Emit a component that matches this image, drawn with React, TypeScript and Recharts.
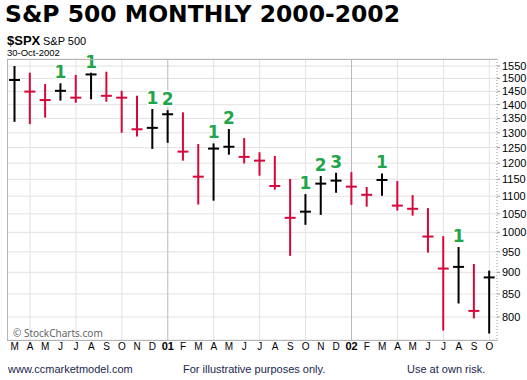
import React from "react";
import { Bar, CartesianGrid, ComposedChart, LabelList, XAxis, YAxis } from "recharts";

// monthly bars, Mar 2000 .. Oct 2002
const periods = [
  "2000-03", "2000-04", "2000-05", "2000-06", "2000-07", "2000-08", "2000-09", "2000-10", "2000-11", "2000-12",
  "2001-01", "2001-02", "2001-03", "2001-04", "2001-05", "2001-06", "2001-07", "2001-08", "2001-09", "2001-10",
  "2001-11", "2001-12", "2002-01", "2002-02", "2002-03", "2002-04", "2002-05", "2002-06", "2002-07", "2002-08",
  "2002-09", "2002-10"
];
const monthLabels = [
  "M", "A", "M", "J", "J", "A", "S", "O", "N", "D", "01", "F", "M", "A", "M", "J", "J", "A", "S", "O",
  "N", "D", "02", "F", "M", "A", "M", "J", "J", "A", "S", "O"
];
const highs = [1550, 1523, 1478, 1481, 1514, 1523, 1527, 1452, 1433, 1384, 1380, 1372, 1262, 1264, 1313, 1282,
  1235, 1223, 1151, 1106, 1160, 1170, 1172, 1127, 1168, 1145, 1103, 1066, 990, 962, 920, 904];
const lows = [1338, 1330, 1353, 1415, 1407, 1420, 1411, 1300, 1287, 1246, 1266, 1208, 1076, 1087, 1227, 1199,
  1161, 1119, 940, 1020, 1047, 1110, 1075, 1070, 1101, 1059, 1045, 948, 772, 829, 797, 766];
const closes = [1494, 1449, 1417, 1452, 1426, 1516, 1433, 1426, 1312, 1317, 1365, 1237, 1158, 1247, 1253, 1220,
  1208, 1130, 1039, 1056, 1137, 1146, 1128, 1104, 1148, 1073, 1064, 989, 909, 913, 813, 888];
const counts = ["", "", "", "1", "", "1", "", "", "", "1", "2", "", "", "1", "2", "", "", "", "", "1", "2", "3",
  "", "", "1", "", "", "", "", "1", "", ""];
const yTicks = [800, 850, 900, 950, 1000, 1050, 1100, 1150, 1200, 1250, 1300, 1350, 1400, 1450, 1500, 1550];
const quarterLines = ["2000-04", "2000-07", "2000-10", "2001-04", "2001-07", "2001-10", "2002-04", "2002-07", "2002-10"];
const yearLines = ["2001-01", "2002-01"];

const UP = "#000000";
const DOWN = "#d4083a";
const GREEN = "#1fa64a";
const AXIS_FONT = "'Liberation Sans', Arial, sans-serif";

const data = periods.map((p, i) => ({
  period: p,
  range: [lows[i], highs[i]],
  high: highs[i],
  low: lows[i],
  close: closes[i],
  up: i === 0 || closes[i] >= closes[i - 1],
  count: counts[i] || null
}));

// x positions of category band centres within the plot area
function gridXs(keys: string[]) {
  return (args: any) => {
    const { left, width } = args.offset;
    const step = width / periods.length;
    return keys.map((k) => left + (periods.indexOf(k) + 0.5) * step);
  };
}

function HlcBar(props: any) {
  const { x, y, width, height, payload } = props;
  if (x == null || y == null) return null;
  const cx = x + width / 2;
  const span = Math.log(payload.high) - Math.log(payload.low);
  const cy = y + (height * (Math.log(payload.high) - Math.log(payload.close))) / span;
  const color = payload.up ? UP : DOWN;
  return (
    <g>
      <line x1={cx} x2={cx} y1={y} y2={y + height} stroke={color} strokeWidth={2} />
      <line x1={cx - 5.5} x2={cx + 5.5} y1={cy} y2={cy} stroke={color} strokeWidth={2} />
    </g>
  );
}

function CountLabel(props: any) {
  const { x, y, width, value } = props;
  if (!value) return null;
  return (
    <text
      x={x + width / 2}
      y={y - 5}
      textAnchor="middle"
      fontFamily="'DejaVu Sans', sans-serif"
      fontWeight="bold"
      fontSize={17}
      fill={GREEN}
      stroke="#ffffff"
      strokeWidth={3}
      paintOrder="stroke"
    >
      {value}
    </text>
  );
}

function MonthTick(props: any) {
  const { x, y, payload } = props;
  const label = monthLabels[payload.index];
  const isYear = label === "01" || label === "02";
  return (
    <text
      x={x}
      y={y + 10}
      textAnchor="middle"
      fontFamily={AXIS_FONT}
      fontSize={isYear ? 11 : 10}
      fontWeight={isYear ? "bold" : "normal"}
      fill="#000"
    >
      {label}
    </text>
  );
}

export default function App() {
  return (
    <div style={{ position: "absolute", left: 0, top: 0, width: 527, height: 380, background: "#fff" }}>
      <ComposedChart
        width={527}
        height={380}
        data={data}
        margin={{ top: 59, right: 0, bottom: 20, left: 7 }}
      >
        <CartesianGrid vertical={false} stroke="#e2e2e2" strokeWidth={1} />
        <CartesianGrid
          horizontal={false}
          stroke="#e2e2e2"
          verticalCoordinatesGenerator={gridXs(quarterLines)}
        />
        <CartesianGrid
          horizontal={false}
          stroke="#b8b8b8"
          verticalCoordinatesGenerator={gridXs(yearLines)}
        />
        <XAxis
          dataKey="period"
          type="category"
          height={20}
          interval={0}
          tickLine={false}
          axisLine={false}
          tickSize={0}
          tickMargin={0}
          tick={<MonthTick />}
        />
        <YAxis
          orientation="right"
          scale="log"
          domain={[753, 1579]}
          allowDataOverflow
          ticks={yTicks}
          interval={0}
          width={30}
          tickSize={3}
          tickMargin={2}
          axisLine={{ stroke: "#9a9a9a", strokeDasharray: "1 2" }}
          tickLine={{ stroke: "#9a9a9a" }}
          tick={{ fontFamily: AXIS_FONT, fontSize: 11, fill: "#000" }}
        />
        <Bar dataKey="range" barSize={11} shape={<HlcBar />} isAnimationActive={false}>
          <LabelList dataKey="count" content={<CountLabel />} />
        </Bar>
      </ComposedChart>
      <div
        style={{
          position: "absolute",
          left: 7,
          top: 59,
          width: 491,
          height: 282,
          boxSizing: "border-box",
          borderLeft: "1px solid #b4b4b4",
          borderTop: "1px solid #b4b4b4",
          borderBottom: "1px solid #b4b4b4",
          pointerEvents: "none"
        }}
      />
      <svg
        width={527}
        height={380}
        style={{ position: "absolute", left: 0, top: 0, pointerEvents: "none" }}
      >
        <text
          x={5}
          y={22}
          fontFamily="'DejaVu Sans', sans-serif"
          fontWeight="bold"
          fontSize={23}
          textLength={395}
          lengthAdjust="spacingAndGlyphs"
          fill="#000"
        >
          S&amp;P 500 MONTHLY 2000-2002
        </text>
        <text x={7} y={45} fontFamily={AXIS_FONT} fontWeight="bold" fontSize={13} fill="#000">
          $SPX
        </text>
        <text x={43} y={45} fontFamily={AXIS_FONT} fontSize={11} fill="#000">
          S&amp;P 500
        </text>
        <text x={7} y={56} fontFamily={AXIS_FONT} fontSize={9.5} fill="#000">
          30-Oct-2002
        </text>
        <text x={13} y={337} fontFamily="'Noto Sans', sans-serif" fontSize={10} fill="#666">
          © StockCharts.com
        </text>
        <text x={8} y={373} fontFamily={AXIS_FONT} fontSize={11} fill="#1a2850">
          www.ccmarketmodel.com
        </text>
        <text x={183} y={373} fontFamily={AXIS_FONT} fontSize={11} fill="#1a2850">
          For illustrative purposes only.
        </text>
        <text x={407} y={373} fontFamily={AXIS_FONT} fontSize={11} fill="#1a2850">
          Use at own risk.
        </text>
      </svg>
    </div>
  );
}
